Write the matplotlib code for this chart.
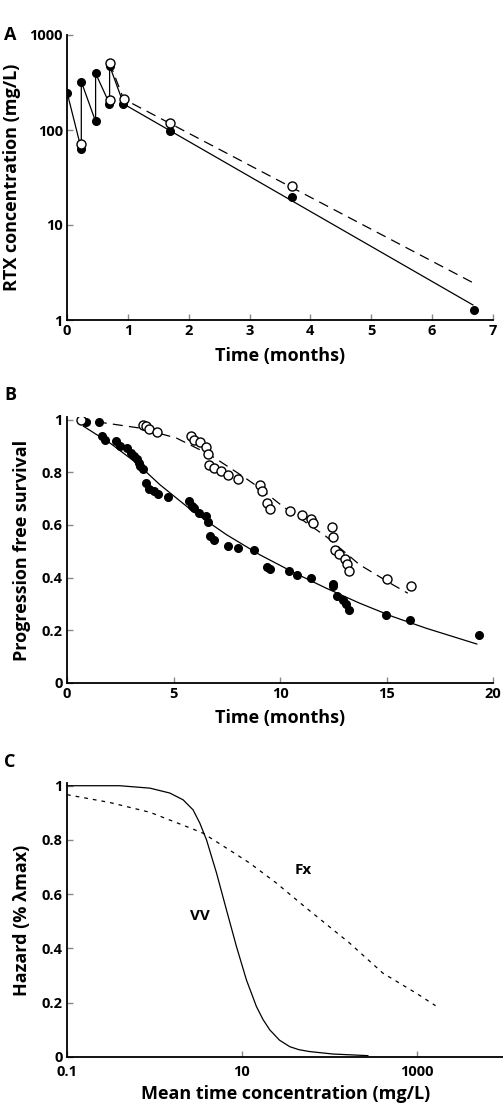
import matplotlib
matplotlib.use("Agg")
import matplotlib.pyplot as plt

# Panel A: RTX concentration vs time
pk_t_filled = [0.0, 0.235, 0.235, 0.47, 0.47, 0.69, 0.70, 0.92, 1.70, 3.70, 6.69]
pk_c_filled = [247, 63, 323, 123, 395, 188, 475, 188, 97, 19.9, 1.27]
pk_t_open = [0.235, 0.70, 0.70, 0.93, 1.70, 3.70]
pk_c_open = [71, 512, 207, 212, 119, 25.8]
pk_line_t = [0.0, 0.235, 0.235, 0.47, 0.47, 0.70, 0.70, 0.93, 6.67]
pk_line_c = [250, 63, 323, 123, 395, 188, 475, 188, 1.44]
pk_dash_t = [0.70, 0.93, 6.67]
pk_dash_c = [512, 212, 2.47]

# Panel B: progression free survival
pfs_t_filled = [0.88, 1.52, 1.63, 1.80, 2.32, 2.49, 2.82, 3.00, 3.16, 3.29, 3.37, 3.45,
                3.59, 3.70, 3.85, 4.09, 4.28, 4.76, 5.73, 5.89, 5.98, 6.22, 6.52, 6.61,
                6.73, 6.89, 7.55, 8.02, 8.79, 9.38, 9.54, 10.43, 10.82, 11.46, 12.47,
                12.48, 12.67, 12.98, 13.09, 13.22, 14.99, 16.12, 19.33]
pfs_filled = [0.99, 0.99, 0.939, 0.924, 0.918, 0.901, 0.891, 0.872, 0.861, 0.852, 0.835,
              0.823, 0.814, 0.759, 0.738, 0.728, 0.719, 0.706, 0.690, 0.671, 0.665, 0.646,
              0.633, 0.613, 0.557, 0.544, 0.522, 0.511, 0.506, 0.441, 0.433, 0.424, 0.411,
              0.399, 0.377, 0.367, 0.332, 0.316, 0.300, 0.278, 0.259, 0.241, 0.181]
pfs_t_open = [0.64, 3.59, 3.70, 3.85, 4.24, 5.83, 5.94, 6.25, 6.54, 6.61, 6.69, 6.88,
              7.22, 7.55, 8.02, 9.07, 9.15, 9.38, 9.54, 10.45, 11.03, 11.45, 11.53,
              12.44, 12.51, 12.59, 12.75, 13.03, 13.14, 13.22, 15.02, 16.15]
pfs_open = [1.0, 0.980, 0.975, 0.965, 0.952, 0.939, 0.924, 0.914, 0.896, 0.870, 0.829,
            0.816, 0.804, 0.789, 0.775, 0.751, 0.728, 0.684, 0.661, 0.654, 0.639, 0.624,
            0.608, 0.591, 0.554, 0.506, 0.491, 0.472, 0.452, 0.424, 0.395, 0.367]
pfs_fit_t = [0.77, 2.02, 3.27, 4.36, 5.92, 7.49, 9.05, 10.61, 12.17, 13.74, 15.3, 16.86, 19.24]
pfs_fit = [0.975, 0.911, 0.835, 0.753, 0.651, 0.563, 0.487, 0.421, 0.360, 0.303, 0.252, 0.208, 0.148]
pfs_fit2_t = [0.64, 1.55, 3.42, 5.14, 6.70, 8.27, 9.05, 10.14, 12.17, 13.74, 15.3, 16.0]
pfs_fit2 = [1.0, 0.990, 0.968, 0.930, 0.867, 0.784, 0.740, 0.670, 0.556, 0.449, 0.373, 0.341]

# Panel C: hazard vs mean time concentration
vv_conc = [0.1, 0.40, 0.89, 1.50, 2.13, 2.77, 3.31, 3.95, 5.14, 6.68, 8.69, 11.3, 14.7,
           17.5, 20.9, 27.0, 35.4, 45.0, 59.8, 110, 277]
vv_haz = [1.0, 1.0, 0.991, 0.973, 0.948, 0.911, 0.862, 0.800, 0.678, 0.542, 0.407, 0.284,
          0.186, 0.138, 0.100, 0.062, 0.038, 0.027, 0.020, 0.011, 0.005]
fx_conc = [0.1, 0.31, 0.89, 2.77, 3.6, 6.68, 12.3, 24.9, 54.8, 171, 412, 993, 1648]
fx_haz = [0.967, 0.938, 0.902, 0.840, 0.825, 0.770, 0.715, 0.641, 0.549, 0.420, 0.309, 0.235, 0.189]

plt.rcParams["font.family"] = ["Open Sans", "DejaVu Sans"]
plt.rcParams["font.weight"] = "bold"

W, H = 503, 1106
fig = plt.figure(figsize=(W / 100, H / 100), dpi=100)


def px_axes(left, top, right, bottom):
    return fig.add_axes([left / W, 1 - bottom / H, (right - left) / W, (bottom - top) / H])


def style(ax):
    for s in ["top", "right"]:
        ax.spines[s].set_visible(False)
    for s in ["left", "bottom"]:
        ax.spines[s].set_linewidth(1.3)
    ax.tick_params(direction="in", length=4, width=1, color="#888888",
                   labelsize=10.5, pad=3)
    for lab in ax.get_xticklabels() + ax.get_yticklabels():
        lab.set_fontweight("bold")


mk_f = dict(marker="o", ms=5.5, mfc="black", mec="black", ls="none", zorder=3)
mk_o = dict(marker="o", ms=6.5, mfc="white", mec="black", mew=1, ls="none", zorder=4)

# A
axA = px_axes(67, 35, 493, 320)
axA.set_yscale("log")
axA.plot(pk_line_t, pk_line_c, color="black", lw=0.9)
axA.plot(pk_dash_t, pk_dash_c, color="black", lw=0.9, dashes=(8, 5))
axA.plot(pk_t_filled, pk_c_filled, **mk_f)
axA.plot(pk_t_open, pk_c_open, **mk_o)
axA.set_xlim(0, 7)
axA.set_ylim(1, 1000)
axA.set_xticks(range(8))
axA.set_yticks([1, 10, 100, 1000])
axA.set_yticklabels(["1", "10", "100", "1000"])
axA.minorticks_off()
axA.set_xlabel("Time (months)", fontsize=13, fontweight="bold", labelpad=6)
axA.set_ylabel("RTX concentration (mg/L)", fontsize=13, fontweight="bold", labelpad=6)
style(axA)
fig.text(4 / W, 1 - 35 / H, "A", fontsize=13, fontweight="bold", va="center")

# B
axB = px_axes(67, 417, 493, 683)
axB.plot(pfs_fit_t, pfs_fit, color="black", lw=0.9)
axB.plot(pfs_fit2_t, pfs_fit2, color="black", lw=0.9, dashes=(8, 5))
axB.plot(pfs_t_filled, pfs_filled, **mk_f)
axB.plot(pfs_t_open, pfs_open, **mk_o)
axB.set_xlim(0, 20)
axB.set_ylim(0, 1.01)
axB.set_xticks([0, 5, 10, 15, 20])
axB.set_yticks([0, 0.2, 0.4, 0.6, 0.8, 1.0])
axB.set_yticklabels(["0", "0.2", "0.4", "0.6", "0.8", "1"])
axB.set_xlabel("Time (months)", fontsize=13, fontweight="bold", labelpad=6)
axB.set_ylabel("Progression free survival", fontsize=13, fontweight="bold", labelpad=8)
style(axB)
fig.text(4 / W, 1 - 395 / H, "B", fontsize=13, fontweight="bold", va="center")

# C
axC = px_axes(67, 783, 504, 1057)
axC.set_xscale("log")
axC.plot(vv_conc, vv_haz, color="black", lw=0.9)
axC.plot(fx_conc, fx_haz, color="black", lw=0.9, dashes=(3, 4))
axC.set_xlim(0.1, 10000)
axC.set_ylim(0, 1.01)
axC.set_xticks([0.1, 10, 1000])
axC.set_xticklabels(["0.1", "10", "1000"])
axC.minorticks_off()
axC.set_yticks([0, 0.2, 0.4, 0.6, 0.8, 1.0])
axC.set_yticklabels(["0", "0.2", "0.4", "0.6", "0.8", "1"])
axC.set_xlabel("Mean time concentration (mg/L)", fontsize=13, fontweight="bold", labelpad=4)
axC.set_ylabel("Hazard (% \u03bbmax)", fontsize=13, fontweight="bold", labelpad=8)
style(axC)
axC.tick_params(axis="x", pad=6)
axC.text(3.3, 0.52, "VV", fontsize=11, fontweight="bold", ha="center", va="center")
axC.text(50, 0.69, "Fx", fontsize=11, fontweight="bold", ha="center", va="center")
fig.text(4 / W, 1 - 762 / H, "C", fontsize=13, fontweight="bold", va="center")

fig.savefig("out.png", dpi=100)
